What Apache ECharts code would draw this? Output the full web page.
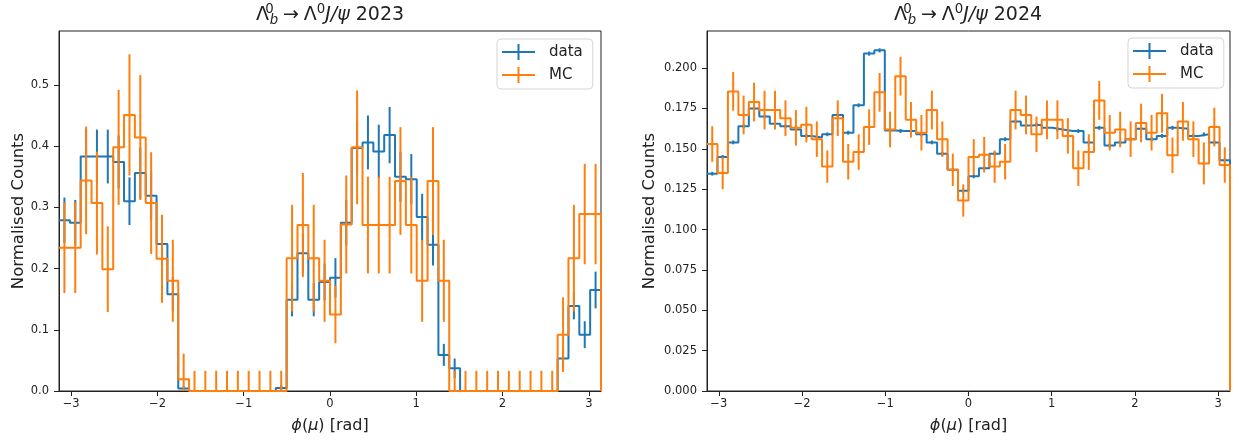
<!DOCTYPE html>
<html>
<head>
<meta charset="utf-8">
<title>phi(mu) data vs MC</title>
<script src="https://cdn.jsdelivr.net/npm/echarts@6/dist/echarts.min.js"></script>
<style>
  html, body { margin: 0; padding: 0; background: #fff; }
  #chart { width: 1241px; height: 444px; }
</style>
</head>
<body>
<div id="chart"></div>
<script>
// binning of phi(mu): 50 bins over [-pi, pi]
const PHI_MIN = -Math.PI
const PHI_MAX = Math.PI
const N_BINS = 50

const xTicks = [-3, -2, -1, 0, 1, 2, 3]
const yTicks2023 = [0, 0.1, 0.2, 0.3, 0.4, 0.5]
const yTicks2024 = [0, 0.025, 0.05, 0.075, 0.1, 0.125, 0.15, 0.175, 0.2]

// 2023
const data2023 = [
  0.279, 0.275, 0.383, 0.383, 0.383, 0.374, 0.310, 0.356, 0.319, 0.240,
  0.158, 0.004, 0, 0, 0, 0, 0, 0, 0, 0,
  0.005, 0.149, 0.225, 0.149, 0.178, 0.185, 0.275, 0.397, 0.406, 0.391,
  0.418, 0.350, 0.346, 0.284, 0.239, 0.059, 0.037, 0, 0, 0,
  0, 0, 0, 0, 0, 0, 0.053, 0.139, 0.092, 0.165
]
const dataErr2023 = [
  0.037, 0.037, 0.044, 0.044, 0.044, 0.043, 0.039, 0.042, 0.040, 0.035,
  0.028, 0.004, 0, 0, 0, 0, 0, 0, 0, 0,
  0.005, 0.027, 0.032, 0.027, 0.030, 0.032, 0.037, 0.044, 0.044, 0.044,
  0.046, 0.041, 0.041, 0.038, 0.034, 0.018, 0.016, 0, 0, 0,
  0, 0, 0, 0, 0, 0, 0.016, 0.022, 0.022, 0.030
]
const mc2023 = [
  0.234, 0.234, 0.344, 0.307, 0.199, 0.398, 0.451, 0.414, 0.307, 0.216,
  0.180, 0.019, 0, 0, 0, 0, 0, 0, 0, 0,
  0, 0.217, 0.271, 0.217, 0.180, 0.125, 0.272, 0.398, 0.271, 0.271,
  0.271, 0.343, 0.271, 0.180, 0.343, 0.180, 0, 0, 0, 0,
  0, 0, 0, 0, 0, 0, 0.092, 0.217, 0.289, 0.289
]
const mcErr2023 = [
  0.074, 0.074, 0.088, 0.084, 0.070, 0.094, 0.099, 0.102, 0.083, 0.072,
  0.067, 0.042, 0.033, 0.033, 0.033, 0.033, 0.033, 0.033, 0.033, 0.033,
  0.033, 0.087, 0.085, 0.087, 0.067, 0.047, 0.080, 0.093, 0.079, 0.079,
  0.079, 0.088, 0.079, 0.067, 0.088, 0.067, 0.033, 0.033, 0.033, 0.033,
  0.033, 0.033, 0.033, 0.033, 0.033, 0.033, 0.061, 0.087, 0.082, 0.082
]

// 2024
const data2024 = [
  0.1346, 0.145, 0.154, 0.164, 0.175, 0.170, 0.1656, 0.164, 0.162, 0.158,
  0.157, 0.159, 0.171, 0.160, 0.177, 0.209, 0.211, 0.1614, 0.161, 0.161,
  0.159, 0.154, 0.147, 0.137, 0.124, 0.133, 0.138, 0.147, 0.156, 0.167,
  0.1645, 0.165, 0.163, 0.162, 0.161, 0.161, 0.154, 0.163, 0.152, 0.154,
  0.156, 0.1625, 0.156, 0.158, 0.163, 0.1625, 0.158, 0.159, 0.154, 0.143
]
const dataErr2024 = [
  0.0012, 0.0012, 0.0012, 0.0012, 0.0012, 0.0012, 0.0012, 0.0012, 0.0012, 0.0012,
  0.0012, 0.0012, 0.0012, 0.0012, 0.0012, 0.0013, 0.0013, 0.0012, 0.0012, 0.0012,
  0.0012, 0.0012, 0.0012, 0.0012, 0.0012, 0.0012, 0.0012, 0.0012, 0.0012, 0.0012,
  0.0012, 0.0012, 0.0012, 0.0012, 0.0012, 0.0012, 0.0012, 0.0012, 0.0012, 0.0012,
  0.0012, 0.0012, 0.0012, 0.0012, 0.0012, 0.0012, 0.0012, 0.0012, 0.0012, 0.0012
]
const mc2024 = [
  0.153, 0.135, 0.1856, 0.171, 0.179, 0.174, 0.174, 0.169, 0.163, 0.165,
  0.156, 0.139, 0.169, 0.142, 0.148, 0.1635, 0.185, 0.162, 0.195, 0.168,
  0.160, 0.174, 0.156, 0.137, 0.118, 0.145, 0.1464, 0.139, 0.142, 0.174,
  0.171, 0.159, 0.168, 0.168, 0.158, 0.138, 0.148, 0.180, 0.160, 0.162,
  0.156, 0.166, 0.160, 0.172, 0.146, 0.167, 0.156, 0.141, 0.1635, 0.140
]
const mcErr2024 = [
  0.011, 0.010, 0.012, 0.012, 0.012, 0.012, 0.012, 0.011, 0.011, 0.011,
  0.011, 0.010, 0.011, 0.011, 0.011, 0.011, 0.012, 0.011, 0.012, 0.011,
  0.011, 0.012, 0.011, 0.010, 0.010, 0.011, 0.011, 0.010, 0.011, 0.012,
  0.012, 0.011, 0.012, 0.012, 0.011, 0.011, 0.011, 0.012, 0.011, 0.011,
  0.011, 0.012, 0.011, 0.012, 0.011, 0.012, 0.011, 0.013, 0.012, 0.011
]

const BLUE = '#1f77b4'
const ORANGE = '#ff7f0e'
const INK = '#222'
const FONT = 'DejaVu Sans'
const LW = 2

const binWidth = (PHI_MAX - PHI_MIN) / N_BINS
const binEdges = Array.from({ length: N_BINS + 1 }, (_, i) => PHI_MIN + i * binWidth)
const binCenters = binEdges.slice(0, N_BINS).map(e => e + binWidth / 2)

// histogram outline, dropping to zero at the right end
const stepPoints = (vals) => {
  const pts = []
  vals.forEach((v, i) => pts.push([binEdges[i], v]))
  pts.push([binEdges[N_BINS], vals[N_BINS - 1]])
  pts.push([binEdges[N_BINS], 0])
  return pts
}

const errPoints = (vals, errs) => vals.map((v, i) => [binCenters[i], v, errs[i]])

const minus = (v) => (v < 0 ? '\u2212' + Math.abs(v) : String(v))

const errorRenderer = (color) => (params, api) => {
  const x = api.value(0)
  const y = api.value(1)
  const e = api.value(2)
  if (!e) return
  const lo = api.coord([x, Math.max(0, y - e)])
  const hi = api.coord([x, y + e])
  return {
    type: 'line',
    shape: { x1: lo[0], y1: lo[1], x2: hi[0], y2: hi[1] },
    style: { stroke: color, lineWidth: LW }
  }
}

const panelSeries = (idx, dataVals, dataErrs, mcVals, mcErrs) => [
  {
    name: 'data', type: 'line', xAxisIndex: idx, yAxisIndex: idx,
    step: 'end', showSymbol: false, color: BLUE, z: 2,
    lineStyle: { color: BLUE, width: LW },
    data: stepPoints(dataVals)
  },
  {
    name: 'data', type: 'custom', xAxisIndex: idx, yAxisIndex: idx, z: 3,
    renderItem: errorRenderer(BLUE), encode: { x: 0, y: 1 },
    data: errPoints(dataVals, dataErrs)
  },
  {
    name: 'MC', type: 'line', xAxisIndex: idx, yAxisIndex: idx,
    step: 'end', showSymbol: false, color: ORANGE, z: 4,
    lineStyle: { color: ORANGE, width: LW },
    data: stepPoints(mcVals)
  },
  {
    name: 'MC', type: 'custom', xAxisIndex: idx, yAxisIndex: idx, z: 5,
    renderItem: errorRenderer(ORANGE), encode: { x: 0, y: 1 },
    data: errPoints(mcVals, mcErrs)
  }
]

const xAxisFor = (idx) => ({
  gridIndex: idx, type: 'value', min: PHI_MIN, max: PHI_MAX,
  axisLine: { show: true, onZero: false, lineStyle: { color: INK, width: 1 } },
  axisTick: { show: true, length: 5, customValues: xTicks, lineStyle: { color: INK } },
  axisLabel: { customValues: xTicks, formatter: minus, margin: 7, fontSize: 11.5, color: INK, fontFamily: FONT },
  splitLine: { show: false },
  name: '{it|\u03d5}({it|\u03bc}) [rad]',
  nameLocation: 'middle', nameGap: 27,
  nameTextStyle: {
    fontSize: 16, color: INK, fontFamily: FONT,
    rich: { it: { fontStyle: 'italic', fontSize: 16, color: INK, fontFamily: FONT } }
  }
})

const yAxisFor = (idx, max, ticks, digits, gap) => ({
  gridIndex: idx, type: 'value', min: 0, max: max,
  axisLine: { show: true, onZero: false, lineStyle: { color: INK, width: 1 } },
  axisTick: { show: true, length: 5, customValues: ticks, lineStyle: { color: INK } },
  axisLabel: { customValues: ticks, formatter: v => v.toFixed(digits), margin: 10, fontSize: 11.5, color: INK, fontFamily: FONT },
  splitLine: { show: false },
  name: 'Normalised Counts', nameLocation: 'middle', nameGap: gap,
  nameTextStyle: { fontSize: 16.5, color: INK, fontFamily: FONT }
})

// errorbar-style legend glyph: horizontal line crossed by a vertical bar
const LEGEND_ICON = 'path://M0,7H33V9H0Z M15.5,0H17.5V16H15.5Z'

const legendFor = (left, top) => ({
  left: left, top: top, orient: 'vertical',
  icon: LEGEND_ICON, itemWidth: 33, itemHeight: 16, itemGap: 7,
  padding: [5, 10, 6, 5],
  backgroundColor: 'rgba(255,255,255,0.8)',
  borderColor: '#d5d5d5', borderWidth: 1, borderRadius: 4,
  selectedMode: false,
  textStyle: { fontSize: 15, color: INK, fontFamily: FONT, padding: [0, 0, 0, 9] },
  data: ['data', 'MC']
})

const TITLE_RICH = {
  m: { fontSize: 19, fontFamily: FONT, fill: INK, lineHeight: 24, verticalAlign: 'middle' },
  it: { fontSize: 19, fontFamily: FONT, fontStyle: 'italic', fill: INK, lineHeight: 24, verticalAlign: 'middle' },
  supz: { fontSize: 13.3, fontFamily: FONT, fill: INK, lineHeight: 12, verticalAlign: 'top', width: 1 },
  sup: { fontSize: 13.3, fontFamily: FONT, fill: INK, lineHeight: 12, verticalAlign: 'top' },
  sub: { fontSize: 13.3, fontFamily: FONT, fontStyle: 'italic', fill: INK, lineHeight: 12, verticalAlign: 'bottom' }
}
const titleText = (year) =>
  '{m|\u039b}{supz|0}{sub|b}{m|\u2005\u2192\u2005\u039b}{sup|0}{it|J/\u03c8}{m| ' + year + '}'

const chart = echarts.init(document.getElementById('chart'))

const option = {
  animation: false,
  backgroundColor: '#fff',
  textStyle: { fontFamily: FONT },
  graphic: [
    { type: 'text', x: 330, y: 15, style: { text: titleText('2023'), align: 'center', verticalAlign: 'middle', rich: TITLE_RICH } },
    { type: 'text', x: 968, y: 15, style: { text: titleText('2024'), align: 'center', verticalAlign: 'middle', rich: TITLE_RICH } }
  ],
  legend: [legendFor(497, 39), legendFor(1128, 38)],
  grid: [
    { left: 59, right: 640, top: 31, bottom: 53, show: true, borderColor: INK, borderWidth: 1 },
    { left: 707, right: 11, top: 31, bottom: 53, show: true, borderColor: INK, borderWidth: 1 }
  ],
  xAxis: [xAxisFor(0), xAxisFor(1)],
  yAxis: [
    yAxisFor(0, 0.588, yTicks2023, 1, 32),
    yAxisFor(1, 0.223, yTicks2024, 3, 49)
  ],
  series: [
    ...panelSeries(0, data2023, dataErr2023, mc2023, mcErr2023),
    ...panelSeries(1, data2024, dataErr2024, mc2024, mcErr2024)
  ]
}

chart.setOption(option)
</script>
</body>
</html>
